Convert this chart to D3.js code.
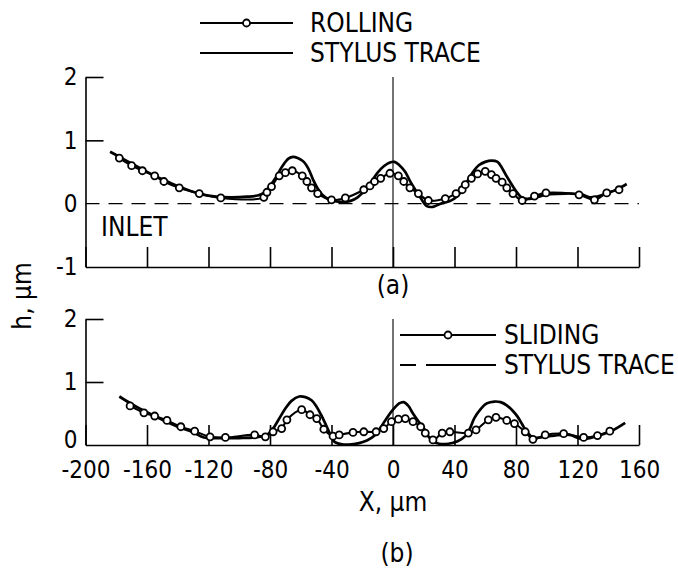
<!DOCTYPE html>
<html><head><meta charset="utf-8">
<script src="https://cdn.jsdelivr.net/npm/d3@7"></script>
<style>
html,body{margin:0;padding:0;background:#fff;}
svg text{font-family:"DejaVu Sans Condensed","Liberation Sans Narrow","DejaVu Sans",sans-serif;fill:#000;}
</style></head>
<body>
<svg id="chart" width="678" height="568"></svg>
<script>
// ---- data ----
const xTicks = [-200,-160,-120,-80,-40,0,40,80,120,160];
const yTicksA = [2,1,0,-1];
const yTicksB = [2,1,0];

// (a) stylus trace
const stylusAX = [-184,-175,-165,-155,-145,-135,-125,-115,-105,-95,-88,-84,-80,-76,-72,-68,-65,-62,-58,-55,-52,-49,-46,-42,-38,-33,-28,-23,-18,-14,-10,-6,-2,1,4,8,11,15,18,22,26,31,37,42,45,48,52,56,60,64,68,71,74,77,80,84,90,96,102,112,122,128,134,140,146,152];
const stylusAH = [0.82,0.70,0.57,0.44,0.33,0.23,0.15,0.11,0.10,0.11,0.13,0.17,0.28,0.42,0.59,0.71,0.74,0.72,0.66,0.55,0.38,0.24,0.14,0.07,0.04,0.03,0.04,0.10,0.22,0.35,0.49,0.59,0.65,0.66,0.61,0.50,0.36,0.20,0.09,-0.04,-0.05,0.00,0.04,0.12,0.22,0.34,0.50,0.61,0.66,0.68,0.66,0.56,0.43,0.31,0.20,0.09,0.08,0.12,0.15,0.16,0.15,0.10,0.12,0.17,0.23,0.31];
// (a) rolling
const rollX = [-178,-170,-163,-155,-149,-139,-126,-112,-84,-82,-79,-74,-70,-65.5,-59,-56,-53,-49,-40,-31,-19,-15,-12,-8,-2,3.5,7,11,16.5,23,34,41,45,47,51,55,60,64,67,71,74,78,84,92,99.5,121,131,139,147];
const rollH = [0.72,0.60,0.52,0.44,0.35,0.25,0.16,0.09,0.10,0.18,0.27,0.44,0.49,0.52,0.44,0.35,0.25,0.16,0.06,0.09,0.22,0.28,0.35,0.40,0.48,0.44,0.35,0.25,0.16,0.05,0.08,0.16,0.22,0.30,0.40,0.47,0.51,0.46,0.40,0.34,0.25,0.16,0.05,0.12,0.17,0.14,0.06,0.17,0.22];

// (b) stylus trace
const stylusBX = [-178,-170,-160,-150,-140,-130,-123,-115,-100,-90,-82,-78,-74,-70,-66,-61,-57,-53,-50,-47,-44,-41,-38,-33,-27,-22,-17,-12,-8,-4,0,4,7,10,13,17,20,23,26,30,36,42,47,50,53,57,61,66,70,74,78,81,84,87,91,96,105,115,122,128,135,142,151];
const stylusBH = [0.77,0.65,0.52,0.40,0.29,0.20,0.12,0.11,0.11,0.12,0.16,0.26,0.42,0.58,0.70,0.77,0.76,0.71,0.62,0.49,0.34,0.18,0.05,0.01,0.01,0.03,0.07,0.15,0.28,0.43,0.56,0.66,0.68,0.62,0.50,0.36,0.27,0.14,0.06,0.02,0.02,0.06,0.14,0.26,0.43,0.57,0.66,0.69,0.68,0.63,0.54,0.45,0.33,0.21,0.12,0.12,0.15,0.16,0.10,0.11,0.16,0.22,0.35];
// (b) sliding
const slideX = [-171,-162,-155,-147,-138,-129,-119,-109,-90,-83,-78,-72.4,-69,-59.4,-54,-49.6,-45,-39,-35,-26,-19,-11,-6,-1,3.5,8,13,18,21,26,32,37,49,54,62,67,74,79,86,91,99,111,124,133,141];
const slideH = [0.62,0.51,0.46,0.39,0.29,0.22,0.13,0.12,0.16,0.13,0.21,0.26,0.40,0.56,0.48,0.42,0.25,0.14,0.16,0.20,0.21,0.21,0.26,0.37,0.41,0.42,0.37,0.29,0.19,0.08,0.19,0.21,0.19,0.24,0.40,0.44,0.39,0.34,0.21,0.09,0.16,0.18,0.12,0.15,0.22];

const legendA = ["ROLLING","STYLUS TRACE"];
const legendB = ["SLIDING","STYLUS TRACE"];

// ---- drawing ----
const svg = d3.select("#chart");
const FONT = 24, LFONT = 26;
const x = d3.scaleLinear().domain([-200,160]).range([85.5,639]);
const yA = d3.scaleLinear().domain([-1,2]).range([267,77]);
const yB = d3.scaleLinear().domain([0,2]).range([445,319]);
const fmt = d => d < 0 ? "-" + Math.abs(d) : String(d);

function styleAxis(g){
  g.attr("font-family",null).attr("font-size",FONT);
  g.selectAll("path,line").attr("stroke","#000").attr("stroke-width",1.6);
}

function panel(y, yTicks, sX, sH, cX, cH, bottomLabels){
  const [y0,y1] = y.domain();
  // left axis (line + inward ticks at 2 and 1)
  svg.append("g").attr("transform",`translate(${x(-200)},0)`)
    .call(d3.axisLeft(y).tickValues([2,1]).tickSize(-18).tickSizeOuter(0).tickFormat(""))
    .call(styleAxis);
  // left labels
  svg.append("g").attr("transform",`translate(${x(-200)},0)`)
    .call(d3.axisLeft(y).tickValues(yTicks).tickSize(0).tickPadding(8).tickFormat(fmt))
    .call(styleAxis)
    .call(g=>g.select(".domain").remove())
    .call(g=>g.selectAll(".tick text").filter(d=>bottomLabels && d===0).attr("dy","0.12em"));
  // bottom axis with upward ticks
  const ax = d3.axisBottom(x).tickValues(xTicks).tickSize(-20).tickSizeOuter(0).tickPadding(16)
    .tickFormat(bottomLabels ? fmt : () => "");
  svg.append("g").attr("transform",`translate(0,${y(y0)})`).call(ax).call(styleAxis);
  // zero reference line (dashed) for panel a
  if(y0<0){
    svg.append("line").attr("x1",x(-200)).attr("x2",x(160)).attr("y1",y(0)).attr("y2",y(0))
      .attr("stroke","#000").attr("stroke-width",1.1).attr("stroke-dasharray","14,9");
  }
  // vertical line at x=0
  svg.append("line").attr("x1",x(0)).attr("x2",x(0)).attr("y1",y(y1)).attr("y2",y(y0))
    .attr("stroke","#000").attr("stroke-width",1.1);
  // stylus trace
  const line = d3.line().x(d=>x(d[0])).y(d=>y(d[1])).curve(d3.curveCatmullRom.alpha(0.5));
  svg.append("path").datum(d3.zip(sX,sH)).attr("d",line)
    .attr("fill","none").attr("stroke","#000").attr("stroke-width",2.7);
  // measured line through circles
  svg.append("path").datum(d3.zip(cX,cH)).attr("d",line)
    .attr("fill","none").attr("stroke","#000").attr("stroke-width",2.1);
  svg.append("g").selectAll("circle").data(d3.zip(cX,cH)).join("circle")
    .attr("cx",d=>x(d[0])).attr("cy",d=>y(d[1])).attr("r",3.5)
    .attr("fill","#fff").attr("stroke","#000").attr("stroke-width",1.8);
}

panel(yA, yTicksA, stylusAX, stylusAH, rollX, rollH, false);
panel(yB, yTicksB, stylusBX, stylusBH, slideX, slideH, true);

function legend(labels, lx0, lx1, tx, rows, dashed){
  rows.forEach((ry,i)=>{
    if(i===0){
      svg.append("line").attr("x1",lx0).attr("x2",lx1).attr("y1",ry).attr("y2",ry)
        .attr("stroke","#000").attr("stroke-width",2);
      svg.append("circle").attr("cx",(lx0+lx1)/2).attr("cy",ry).attr("r",3.5)
        .attr("fill","#fff").attr("stroke","#000").attr("stroke-width",1.8);
    } else {
      svg.append("line").attr("x1",lx0).attr("x2",lx1).attr("y1",ry).attr("y2",ry)
        .attr("stroke","#000").attr("stroke-width",2.2)
        .attr("stroke-dasharray",dashed?"16,10,200":null);
    }
    svg.append("text").attr("x",tx).attr("y",ry).attr("dy","0.36em")
      .attr("font-size",LFONT).text(labels[i]);
  });
}
legend(legendA, 200, 293, 310, [23,53], false);
legend(legendB, 400, 496, 504, [335,365], true);

// text annotations
svg.append("text").attr("x",101).attr("y",227).attr("dy","0.36em").attr("font-size",LFONT).text("INLET");
svg.append("text").attr("x",x(0)).attr("y",285).attr("dy","0.36em").attr("text-anchor","middle").attr("font-size",LFONT).text("(a)");
svg.append("text").attr("x",x(0)).attr("y",502).attr("dy","0.36em").attr("text-anchor","middle").attr("font-size",LFONT).text("X, µm");
svg.append("text").attr("x",x(0)+4).attr("y",553).attr("dy","0.36em").attr("text-anchor","middle").attr("font-size",LFONT).text("(b)");
svg.append("text").attr("transform","translate(22,296) rotate(-90)").attr("dy","0.36em")
  .attr("text-anchor","middle").attr("font-size",LFONT).text("h, µm");
</script>
</body></html>
